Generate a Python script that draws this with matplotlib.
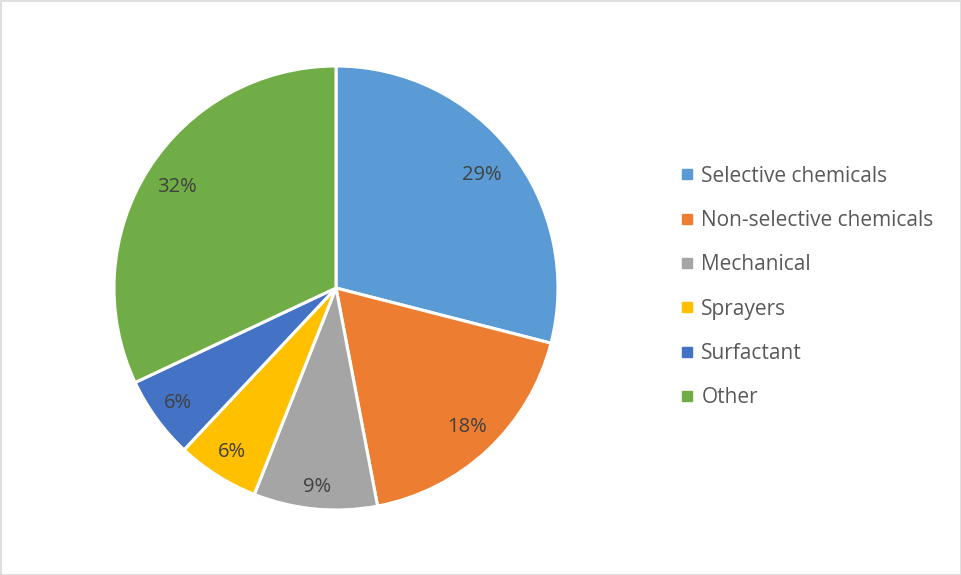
import numpy as np
import matplotlib.pyplot as plt
from matplotlib.lines import Line2D
from matplotlib.patches import Rectangle

categories = ["Selective chemicals", "Non-selective chemicals", "Mechanical",
              "Sprayers", "Surfactant", "Other"]
shares = [29, 18, 9, 6, 6, 32]
colors = ["#5B9BD5", "#ED7D31", "#A5A5A5", "#FFC000", "#4472C4", "#70AD47"]
# radial position of each percentage label, as a fraction of the radius
label_dist = [0.83, 0.86, 0.90, 0.875, 0.88, 0.85]

W, H = 962, 575
fig = plt.figure(figsize=(W / 100, H / 100), dpi=100)
plt.rcParams["font.family"] = ["Open Sans", "DejaVu Sans"]

# pie centre and radius in pixels
cx, cy, r = 336, H - 288, 222
half = 1.25 * r
ax = fig.add_axes([(cx - half) / W, (cy - half) / H, 2 * half / W, 2 * half / H])

wedges, _ = ax.pie(shares, colors=colors, startangle=90, counterclock=False,
                   wedgeprops=dict(edgecolor="white", linewidth=2.2))
ax.set_xlim(-1.25, 1.25)
ax.set_ylim(-1.25, 1.25)

for w, val, d in zip(wedges, shares, label_dist):
    ang = np.deg2rad((w.theta1 + w.theta2) / 2)
    ax.text(d * np.cos(ang), d * np.sin(ang), f"{val}%", ha="center", va="center",
            fontsize=14.5, color="#404040")

handles = [Line2D([], [], marker="s", linestyle="none", markersize=7,
                  markerfacecolor=c, markeredgecolor=c) for c in colors]
fig.legend(handles, categories, loc="center left",
           bbox_to_anchor=(668 / W, 1 - 287 / H), frameon=False,
           fontsize=15, labelcolor="#595959", handlelength=0.8,
           handletextpad=0.3, labelspacing=1.12, borderpad=0)

# light chart-area border
fig.patches.append(Rectangle((0.5 / W, 0.5 / H), 1 - 1.5 / W, 1 - 1.5 / H,
                             transform=fig.transFigure, fill=False,
                             edgecolor="#D9D9D9", linewidth=1.2))

fig.savefig("out.png", dpi=100)
